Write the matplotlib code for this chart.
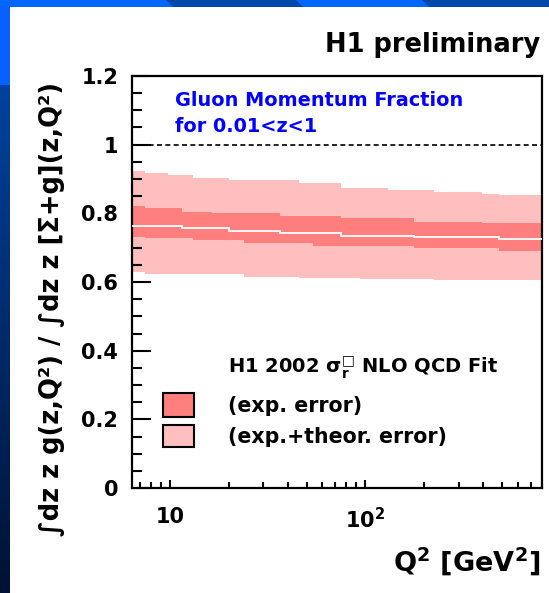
import numpy as np
import matplotlib
matplotlib.use("Agg")
import matplotlib.pyplot as plt
from matplotlib.patches import Rectangle, Polygon
from matplotlib.ticker import MultipleLocator, FixedLocator, LogLocator, NullFormatter

plt.rcParams['font.family'] = ['DejaVu Sans']
plt.rcParams['font.weight'] = 'bold'
plt.rcParams['mathtext.fontset'] = 'dejavusans'
plt.rcParams['mathtext.default'] = 'bf'

# ---------------- data ----------------
q2_edges = [6.4, 7.5, 9.8, 11.5, 13.2, 16.4, 20, 24, 36.6, 46, 54, 75, 94,
            130, 177, 224, 396, 483, 800]
central = [0.764, 0.764, 0.764, 0.757, 0.757, 0.757, 0.750, 0.750, 0.742,
           0.742, 0.742, 0.735, 0.735, 0.735, 0.730, 0.730, 0.730, 0.726]
exp_hi = [0.822, 0.815, 0.815, 0.805, 0.805, 0.800, 0.800, 0.800, 0.791,
          0.791, 0.791, 0.786, 0.786, 0.786, 0.776, 0.776, 0.771, 0.771]
exp_lo = [0.732, 0.728, 0.728, 0.728, 0.723, 0.723, 0.723, 0.713, 0.713,
          0.713, 0.705, 0.705, 0.705, 0.705, 0.698, 0.698, 0.698, 0.691]
tot_hi = [0.922, 0.917, 0.912, 0.912, 0.903, 0.903, 0.896, 0.896, 0.896,
          0.888, 0.888, 0.873, 0.873, 0.869, 0.869, 0.862, 0.857, 0.852]
tot_lo = [0.630, 0.623, 0.623, 0.623, 0.623, 0.623, 0.623, 0.616, 0.616,
          0.613, 0.613, 0.613, 0.609, 0.609, 0.609, 0.606, 0.606, 0.606]
x_major = [10, 100]
x_major_labels = ["10", "$10^{2}$"]
reference_line = 1.0

ylabel = "∫dz z g(z,Q²) / ∫dz z [Σ+g](z,Q²)"
xlabel = "$Q^{2}$ [Ge$V^{2}$]"
title = "H1 preliminary"
info_lines = ["Gluon Momentum Fraction", "for 0.01<z<1"]
legend_header = "H1 2002 $\\sigma_{r}^{□}$ NLO QCD Fit"
legend_labels = ["(exp. error)", "(exp.+theor. error)"]
band_colors = ["#FF7F7F", "#FFBFBF"]

# ---------------- figure ----------------
W, H = 549, 593
fig = plt.figure(figsize=(W / 100, H / 100), dpi=100)

# decorative blue slide frame
bg = fig.add_axes([0, 0, 1, 1], zorder=-5)
rows = np.arange(H)
t = np.clip((rows - 85) / (H - 85), 0, 1)
top_c = np.array([0.04, 0.38, 1.0])
d0 = np.array([0.0, 0.26, 0.62])
d1 = np.array([0.0, 0.07, 0.20])
col = np.where((rows < 85)[:, None], top_c, d0 + (d1 - d0) * t[:, None])
bg.imshow(col[:, None, :], extent=[0, W, H, 0], aspect='auto', interpolation='bilinear')
bg.add_patch(Rectangle((0, 0), W, 7, color='#0066FF', lw=0))
for xa, xb in [(166, 296), (422, 560)]:
    bg.add_patch(Polygon([(xa, 0), (xb, 0), (xb + 7, 7), (xa + 7, 7)], closed=True,
                         color='#0047AB', lw=0))
bg.add_patch(Rectangle((10, 7), W - 10, H - 7, color='white', lw=0))
bg.set_xlim(0, W)
bg.set_ylim(H, 0)
bg.axis('off')

L, R, T, B = 132, 542, 76, 488
ax = fig.add_axes([L / W, 1 - B / H, (R - L) / W, (B - T) / H])
ax.set_facecolor('white')


def ax_x(px):
    return (px - L) / (R - L)


def ax_y(py):
    return (B - py) / (B - T)


ax.stairs(tot_hi, q2_edges, baseline=tot_lo, fill=True, color=band_colors[1], lw=0, zorder=1)
ax.stairs(exp_hi, q2_edges, baseline=exp_lo, fill=True, color=band_colors[0], lw=0, zorder=2)
ax.stairs(central, q2_edges, baseline=None, color='white', lw=1.3, zorder=3)
ax.axhline(reference_line, color='black', lw=1.2, ls=(0, (3, 2)), zorder=4)

ax.set_xscale('log')
ax.set_xlim(q2_edges[0], q2_edges[-1])
ax.set_ylim(0, 1.2)

ax.yaxis.set_major_locator(MultipleLocator(0.2))
ax.yaxis.set_minor_locator(MultipleLocator(0.05))
ax.set_yticks([0, 0.2, 0.4, 0.6, 0.8, 1.0, 1.2])
ax.set_yticklabels(["0", "0.2", "0.4", "0.6", "0.8", "1", "1.2"])
ax.xaxis.set_major_locator(FixedLocator(x_major))
ax.set_xticklabels(x_major_labels)
ax.xaxis.set_minor_locator(LogLocator(base=10, subs=np.arange(2, 10)))
ax.xaxis.set_minor_formatter(NullFormatter())

ax.tick_params(axis='y', which='major', direction='in', length=13.5, width=1.5,
               labelsize=15, pad=10, right=False)
ax.tick_params(axis='y', which='minor', direction='in', length=7, width=1.5, right=False)
ax.tick_params(axis='x', which='major', direction='in', length=6, width=1.5,
               labelsize=15, pad=14, top=False)
ax.tick_params(axis='x', which='minor', direction='in', length=4, width=1.5, top=False)
for s in ax.spines.values():
    s.set_linewidth(1.6)

# texts
fig.text(540 / W, 1 - 45 / H, title, ha='right', va='center', fontsize=18.5)
ax.text(ax_x(175), ax_y(100), info_lines[0], color='#0000FF', fontsize=13.9,
        va='center', transform=ax.transAxes)
ax.text(ax_x(175), ax_y(126), info_lines[1], color='#0000FF', fontsize=13.9,
        va='center', transform=ax.transAxes)

ax.text(ax_x(228), ax_y(368), legend_header, fontsize=14, va='center',
        transform=ax.transAxes)
box_y = [(393, 417), (425, 447)]
text_y = [406, 437]
for (ya, yb), ty, lab, c in zip(box_y, text_y, legend_labels, band_colors):
    ax.add_patch(Rectangle((ax_x(163), ax_y(yb)), ax_x(194) - ax_x(163), ax_y(ya) - ax_y(yb),
                           transform=ax.transAxes, facecolor=c, edgecolor='black', lw=1.5,
                           zorder=5))
    ax.text(ax_x(228), ax_y(ty), lab, fontsize=14.8, va='center', transform=ax.transAxes)

fig.text(52 / W, 1 - 309 / H, ylabel, rotation=90, ha='center', va='center', fontsize=18.5)
fig.text(540 / W, 1 - 562 / H, xlabel, ha='right', va='center', fontsize=19.5)

fig.savefig('out.png', dpi=100)
